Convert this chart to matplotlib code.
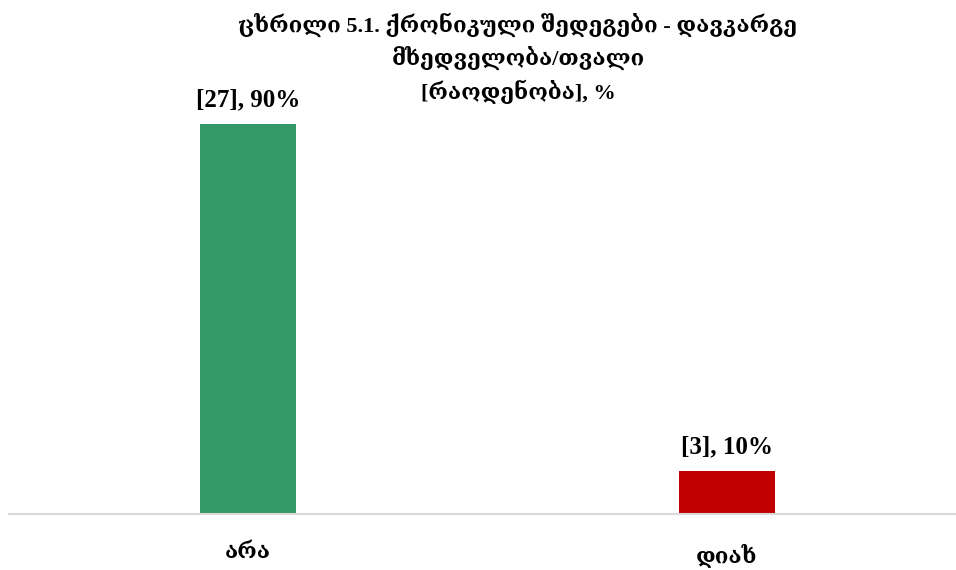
import matplotlib
matplotlib.use("Agg")
import matplotlib.pyplot as plt

categories = ["არა", "დიახ"]
counts = [27, 3]
percents = [90, 10]
colors = ["#339966", "#C00000"]
title_lines = ["ცხრილი 5.1. ქრონიკული შედეგები - დავკარგე",
               "მხედველობა/თვალი",
               "[რაოდენობა], %"]

FONT = ["Liberation Serif", "DejaVu Serif", "DejaVu Sans"]

fig = plt.figure(figsize=(9.56, 5.70), dpi=100)
# axes spans a bit past the right edge so the bar spacing matches
ax = fig.add_axes([8.5 / 956, 1 - 514 / 570, 958 / 956, 494 / 570])

x = list(range(len(categories)))
ax.bar(x, percents, width=0.2, color=colors)
for i, (c, p) in enumerate(zip(counts, percents)):
    ax.annotate(f"[{c}], {p}%", (i, p), xytext=(0, 9), textcoords="offset points",
                ha="center", va="bottom", fontsize=18, fontweight="bold", family=FONT)

ax.set_xlim(-0.5, 1.5)
ax.set_ylim(0, 114)
ax.set_xticks(x)
ax.set_xticklabels(categories, fontsize=16, fontweight="bold", family=FONT)
ax.tick_params(axis="x", length=0, pad=21)
ax.set_yticks([])
for s in ("top", "right", "left"):
    ax.spines[s].set_visible(False)
ax.spines["bottom"].set_color("#d9d9d9")
ax.spines["bottom"].set_linewidth(1.5)

# title as three separate centred lines
for line, ypx in zip(title_lines, [25, 58, 92]):
    fig.text(518 / 956, 1 - ypx / 570, line, ha="center", va="center", fontsize=16,
             fontweight="bold", family=FONT)

fig.savefig("out.png", dpi=100)
